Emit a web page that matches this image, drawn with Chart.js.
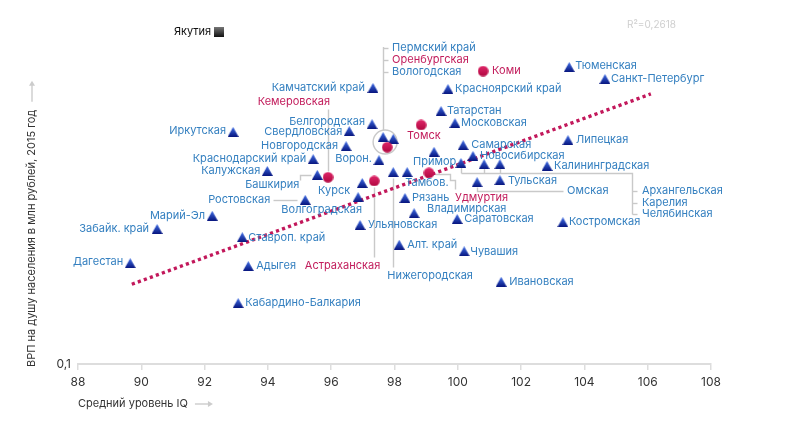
<!DOCTYPE html>
<html><head><meta charset="utf-8">
<script src="https://cdn.jsdelivr.net/npm/chart.js@4/dist/chart.umd.min.js"></script>
<style>html,body{margin:0;padding:0;background:#fff}#wrap{width:800px;height:427px;position:relative}canvas{display:block}</style>
</head><body><div id="wrap"><canvas id="c" width="800" height="427" style="width:800px;height:427px"></canvas></div>
<script>
// ---------- DATA ----------
const regions = ['Якутия','Коми','Камчатский край','Красноярский край','Татарстан','Московская','Томск','Белгородская','Свердловская','Пермский край','Оренбургская','Вологодская','Новгородская','Краснодарский край','Калужская','Иркутская','Ворон.','Башкирия','Кемеровская','Курск','Астраханская','Волгоградская','Ростовская','Ульяновская','Нижегородская','Тамбов.','Удмуртия','Примор.','Рязань','Владимирская','Саратовская','Алт. край','Чувашия','Самарская','Новосибирская','Архангельская','Карелия','Челябинская','Омская','Тульская','Калининградская','Липецкая','Тюменская','Санкт-Петербург','Костромская','Ивановская','Марий-Эл','Забайк. край','Дагестан','Ставроп. край','Адыгея','Кабардино-Балкария'];
const iq = [92.46,100.80,97.32,99.69,99.47,99.91,98.84,97.29,96.57,97.64,97.77,97.96,96.47,95.43,93.98,92.90,97.51,95.56,95.90,96.98,97.36,96.85,95.18,96.91,97.96,98.40,99.09,99.25,98.33,98.62,99.98,98.15,100.20,100.17,100.48,100.10,100.83,101.33,100.61,101.33,102.82,103.48,103.52,104.65,103.32,101.37,92.24,90.50,89.65,93.19,93.38,93.06];
const grp = [0.980,0.749,0.667,0.662,0.569,0.524,0.517,0.520,0.496,0.476,0.444,0.470,0.447,0.409,0.377,0.493,0.406,0.367,0.361,0.347,0.352,0.315,0.309,0.260,0.374,0.374,0.372,0.430,0.313,0.282,0.271,0.227,0.217,0.450,0.418,0.398,0.395,0.395,0.349,0.354,0.390,0.466,0.770,0.709,0.265,0.176,0.277,0.253,0.200,0.239,0.196,0.152];
// kind: s = square, c = circle (highlighted), t = triangle
const kind = ['s','c','t','t','t','t','c','t','t','t','c','t','t','t','t','t','t','t','c','t','c','t','t','t','t','t','c','t','t','t','t','t','t','t','t','t','t','t','t','t','t','t','t','t','t','t','t','t','t','t','t','t'];
const trendIQ = [89.7, 106.1];
const trendGRP = [0.173, 0.640];
const xTickValues = [88,90,92,94,96,98,100,102,104,106,108];
const yTickLabel = '0,1';
const xTitle = 'Средний уровень IQ';
const yTitle = 'ВРП на душу населения в млн рублей, 2015 год';
const r2Text = 'R²=0,2618';

// ---------- LABEL LAYOUT (pixel offsets from each point) ----------
const labelLayout = [
 ['right',-8,0],['left',9,0],['right',-8,0],['left',7,0],['left',6,0],['left',6,0],['left',-14,11],['right',-7,-2],['right',-7,1],
 null,null,null,
 ['right',-8,0],['right',-7,0],['right',-7,0],['right',-7,-1],['right',-7,-1],
 ['right',-18,10,[[-6,0],[-17,0],[-17,5]]],
 ['right',2,-76,[[0,-6],[0,-68]]],
 ['right',-12,8],
 ['right',6,85,[[0,6],[0,76]]],
 ['right',4,13],
 ['right',-35,0,[[-32,0],[-8,0]]],
 ['left',8,0],
 ['left',-6,104,[[0,6],[0,95]]],
 ['left',-2,11],
 ['left',26,25,[[6,1],[21,1],[21,7],[26,7],[26,16]]],
 ['left',-21,10],
 ['left',7,0],['left',13,-4],['left',7,0],['left',8,0],['left',6,0],['left',8,0],['left',7,0],
 null,null,null,
 ['left',90,9,[[0,5],[0,9],[86,9]]],
 ['left',8,1],['left',7,0],['left',8,0],['left',6,-1],['left',6,0],['left',6,-1],['left',8,0],
 ['right',-7,0],['right',-8,0],['right',-7,-1],['left',6,0],['left',8,0],['left',7,0]
];
const groupRing = {members:[9,10,11], ring:[2,5,12], stemTop:-90, labelDx:9, labelDy:[-89,-77,-65]};
const groupBus = {members:[35,36,37], busDy:10, bracketDx:171, labelDx:181, labelDy:[28,40,51]};

const BLUE='#3580c0', PINK='#c21d5c', LEADER='#c9c9c9', DARK='#333';
const FONT="'Inter', 'Liberation Sans', Arial, sans-serif";

// ---------- MARKERS ----------
function mk(w,h,fn){const c=document.createElement('canvas');c.width=w;c.height=h;fn(c.getContext('2d'));return c;}
const triImg = mk(11,10,g=>{const gr=g.createLinearGradient(0,0,0,10);gr.addColorStop(0,'#3f6ee6');gr.addColorStop(1,'#07157e');g.fillStyle=gr;g.beginPath();g.moveTo(5.5,0);g.lineTo(11,10);g.lineTo(0,10);g.closePath();g.fill();});
const dotImg = mk(11,11,g=>{const gr=g.createLinearGradient(0,0,0,11);gr.addColorStop(0,'#e0286a');gr.addColorStop(1,'#b0063f');g.fillStyle=gr;g.beginPath();g.arc(5.5,5.5,5.3,0,Math.PI*2);g.fill();});
const sqImg = mk(10,10,g=>{const gr=g.createLinearGradient(0,0,0,10);gr.addColorStop(0,'#777');gr.addColorStop(1,'#111');g.fillStyle=gr;g.fillRect(0,0,10,10);});

function pts(k){const a=[];regions.forEach((r,i)=>{if(kind[i]===k)a.push({x:iq[i],y:grp[i]});});return a;}

function P(chart,i){return [chart.scales.x.getPixelForValue(iq[i]), chart.scales.y.getPixelForValue(grp[i])];}

const annot = {
 id:'annot',
 beforeDatasetsDraw(chart){
   const ctx=chart.ctx; ctx.save(); ctx.strokeStyle=LEADER; ctx.lineWidth=1.4; ctx.lineJoin='miter';
   labelLayout.forEach((L,i)=>{ if(!L||!L[3])return; const [px,py]=P(chart,i); ctx.beginPath(); L[3].forEach((p,j)=>{ const X=Math.round(px+p[0])+0.5, Y=Math.round(py+p[1])+0.5; j?ctx.lineTo(X,Y):ctx.moveTo(X,Y);}); ctx.stroke();});
   { const [ax,ay]=P(chart,groupRing.members[0]); const [dx,dy,r]=groupRing.ring;
     ctx.beginPath(); ctx.arc(ax+dx,ay+dy,r,0,Math.PI*2); ctx.stroke();
     const sx=Math.round(ax)+0.5; ctx.beginPath(); ctx.moveTo(sx,ay+dy-r); ctx.lineTo(sx,ay+groupRing.stemTop); ctx.stroke();
     groupRing.labelDy.forEach(d=>{ctx.beginPath();ctx.moveTo(sx,Math.round(ay+d)+0.5);ctx.lineTo(sx+5,Math.round(ay+d)+0.5);ctx.stroke();});
   }
   { const [ax,ay]=P(chart,groupBus.members[0]); const busY=Math.round(ay+groupBus.busDy)+0.5; const bx=Math.round(ax+groupBus.bracketDx)+0.5;
     groupBus.members.forEach(m=>{const [px,py]=P(chart,m);ctx.beginPath();ctx.moveTo(Math.round(px)+0.5,py+5);ctx.lineTo(Math.round(px)+0.5,busY);ctx.stroke();});
     ctx.beginPath(); ctx.moveTo(Math.round(ax)+0.5,busY); ctx.lineTo(bx,busY); ctx.lineTo(bx,Math.round(ay+groupBus.labelDy[2])+0.5); ctx.stroke();
     groupBus.labelDy.forEach(d=>{ctx.beginPath();ctx.moveTo(bx,Math.round(ay+d)+0.5);ctx.lineTo(bx+5,Math.round(ay+d)+0.5);ctx.stroke();});
   }
   ctx.restore();
 },
 afterDatasetsDraw(chart){
   const ctx=chart.ctx; ctx.save(); ctx.font='11px '+FONT; ctx.textBaseline='middle';
   const col=i=>kind[i]==='c'?PINK:(kind[i]==='s'?'#111':BLUE);
   labelLayout.forEach((L,i)=>{ if(!L)return; const [px,py]=P(chart,i); ctx.fillStyle=col(i); ctx.textAlign=L[0]; ctx.fillText(regions[i],px+L[1],py+L[2]);});
   { const [ax,ay]=P(chart,groupRing.members[0]); ctx.textAlign='left';
     groupRing.members.forEach((m,j)=>{ctx.fillStyle=col(m);ctx.fillText(regions[m],ax+groupRing.labelDx,ay+groupRing.labelDy[j]);}); }
   { const [ax,ay]=P(chart,groupBus.members[0]); ctx.textAlign='left';
     groupBus.members.forEach((m,j)=>{ctx.fillStyle=col(m);ctx.fillText(regions[m],ax+groupBus.labelDx,ay+groupBus.labelDy[j]);}); }
   ctx.fillStyle='#cfcfcf'; ctx.font='10px '+FONT; ctx.textAlign='left'; ctx.fillText(r2Text,627,25);
   ctx.fillStyle=DARK; ctx.font='11px '+FONT; ctx.textAlign='left';
   const xa=chart.chartArea;
   ctx.fillText(xTitle,xa.left,404);
   let w=ctx.measureText(xTitle).width;
   arrow(ctx,xa.left+w+7,404,xa.left+w+25);
   ctx.save(); ctx.translate(32,xa.bottom+3); ctx.rotate(-Math.PI/2);
   ctx.fillStyle=DARK; ctx.fillText(yTitle,0,0);
   w=ctx.measureText(yTitle).width;
   arrow(ctx,w+8,0,w+29);
   ctx.restore();
   ctx.restore();
 }
};
function arrow(ctx,x1,y,x2){ctx.save();ctx.strokeStyle='#cccccc';ctx.fillStyle='#cccccc';ctx.lineWidth=1.4;ctx.beginPath();ctx.moveTo(x1,y);ctx.lineTo(x2-3,y);ctx.stroke();ctx.beginPath();ctx.moveTo(x2,y);ctx.lineTo(x2-5,y-3);ctx.lineTo(x2-5,y+3);ctx.closePath();ctx.fill();ctx.restore();}

Chart.defaults.font.family = FONT;
new Chart(document.getElementById('c'),{
 type:'scatter',
 data:{datasets:[
   {label:'trend',type:'line',data:trendIQ.map((x,i)=>({x:x,y:trendGRP[i]})),borderColor:'#c2185b',borderWidth:3.4,borderDash:[3.2,3.2],borderCapStyle:'butt',pointRadius:0,fill:false,showLine:true,order:5},
   {label:'tri',data:pts('t'),pointStyle:triImg,clip:false,order:1},
   {label:'dot',data:pts('c'),pointStyle:dotImg,clip:false,order:0},
   {label:'sq',data:pts('s'),pointStyle:sqImg,clip:false,order:0}
 ]},
 options:{
   responsive:false, animation:false, events:[], devicePixelRatio:1,
   layout:{padding:{top:29,right:89,bottom:0,left:0}},
   plugins:{legend:{display:false},tooltip:{enabled:false}},
   scales:{
     x:{type:'linear',min:88,max:108,
        afterBuildTicks:s=>{s.ticks=xTickValues.map(v=>({value:v}));},
        afterFit:s=>{s.height=63;},
        grid:{drawOnChartArea:false,drawTicks:true,tickLength:6,color:'#dddddd',lineWidth:1.5},
        border:{display:true,color:'#dddddd',width:2},
        ticks:{color:DARK,font:{size:12},padding:5,maxRotation:0}},
     y:{type:'logarithmic',min:0.1,max:1,
        afterBuildTicks:s=>{s.ticks=[{value:0.1}];},
        afterFit:s=>{s.width=78;},
        grid:{display:false,drawTicks:false},
        border:{display:false},
        ticks:{color:DARK,font:{size:12},padding:7,callback:()=>yTickLabel}}
   }
 },
 plugins:[annot]
});
</script>
</body></html>
